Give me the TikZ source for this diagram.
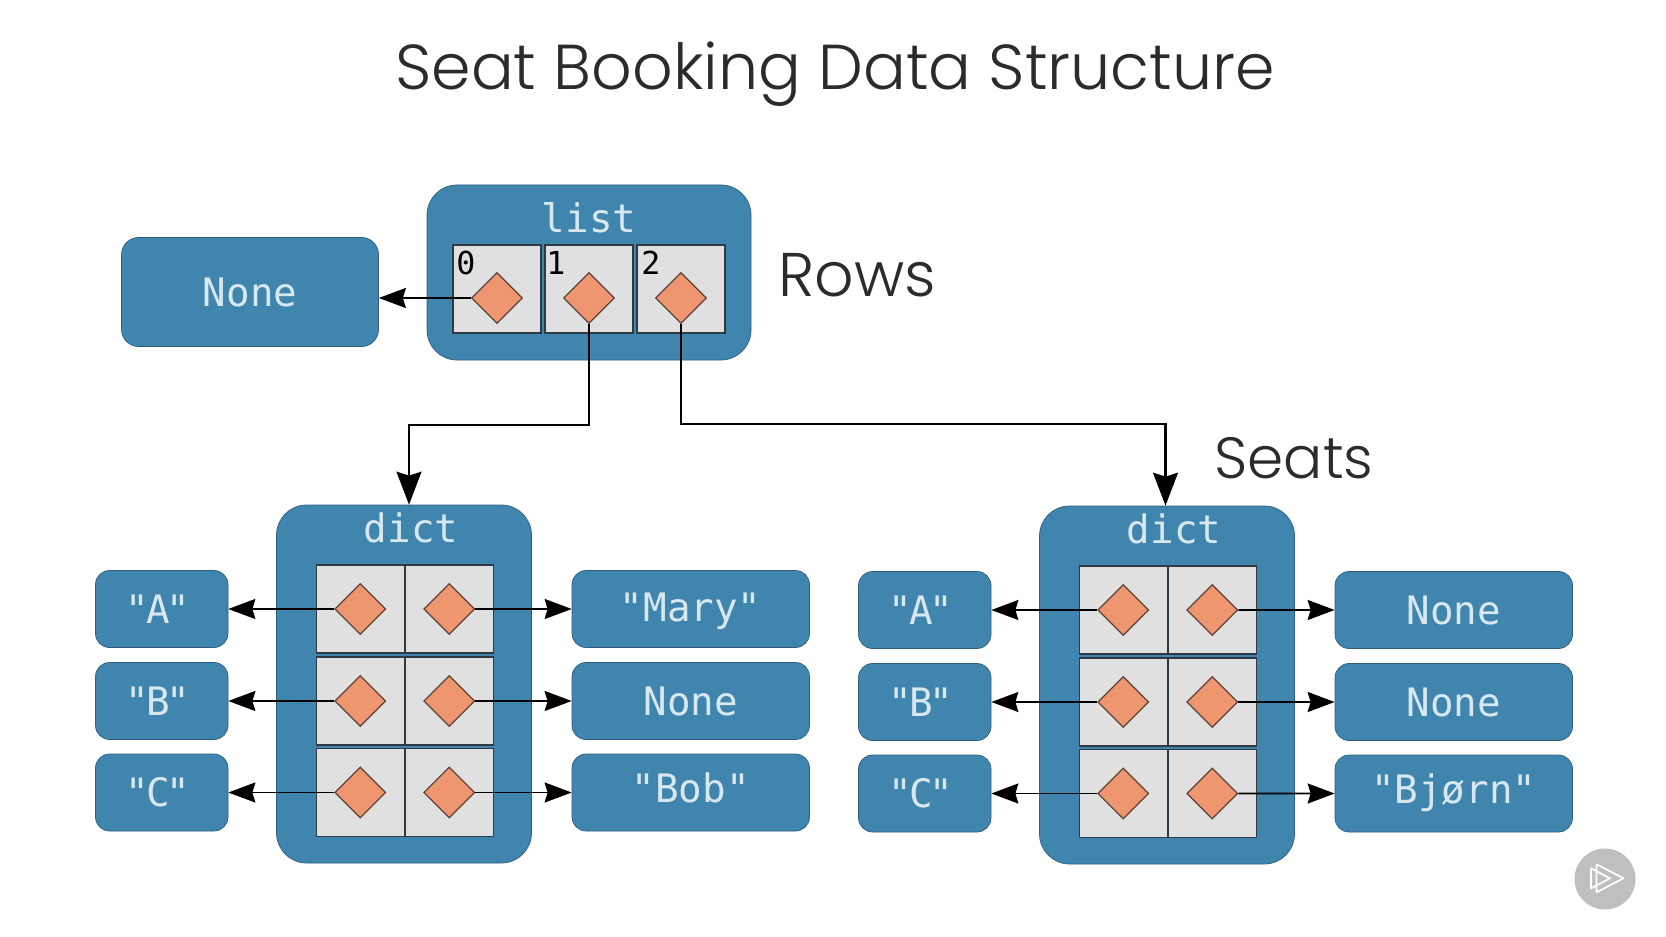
\documentclass[tikz,border=0pt]{standalone}
\usepackage{fontspec}
\usetikzlibrary{arrows.meta, shapes.geometric}

\setmainfont{Poppins}[UprightFont = * Light]
\newfontfamily\monofont{DejaVu Sans Mono}

\definecolor{boxblue}{HTML}{3F85AE}
\definecolor{boxedge}{HTML}{2F5F7E}
\definecolor{boxtext}{HTML}{D9E8EF}
\definecolor{cellgray}{HTML}{E0E0E0}
\definecolor{celledge}{HTML}{2E3A44}
\definecolor{itemfill}{HTML}{EE9670}
\definecolor{itemedge}{HTML}{5E4236}
\definecolor{titleink}{HTML}{2B2B2B}

\newcommand{\keytext}[1]{"\kern-1.8pt #1\kern-1.8pt "\kern 4.5pt}

\tikzset{
	datatext/.style = {text = boxtext, font = \monofont\fontsize{22.3}{25}\selectfont},
	bluebox/.style = {draw = boxedge, fill = boxblue, thin, rounded corners = 0.28cm, inner sep = 0, datatext, text height = 0.57cm, text depth = 0},
	keybox/.style = {bluebox, minimum width = 2.65cm, minimum height = 1.54cm},
	valuebox/.style = {bluebox, minimum width = 4.75cm, minimum height = 1.54cm},
	holder/.style = {draw = boxedge, fill = boxblue, thin, rounded corners = 0.6cm, inner sep = 0},
	cell/.style = {draw = celledge, fill = cellgray, line width = 0.7pt, minimum size = 1.76cm, inner sep = 0},
	item/.style = {diamond, draw = itemedge, fill = itemfill, line width = 0.7pt, minimum width = 1.02cm, minimum height = 1.02cm, inner sep = 0},
	index/.style = {text = black, font = \monofont\fontsize{18}{20}\selectfont, inner sep = 0},
	heading/.style = {text = titleink, inner sep = 0, anchor = base west},
	link/.style = {-{Stealth[length = 0.54cm, width = 0.4cm, inset = 0.06cm]}, line width = 1.1pt},
	bigLink/.style = {-{Stealth[length = 0.66cm, width = 0.5cm, inset = 0.08cm]}, line width = 1.2pt},
	badgeLine/.style = {white, line width = 1pt, line join = round}
}

\begin{document}
\begin{tikzpicture}

	\useasboundingbox (0, 0) rectangle (33.32, 18.72);

	% Headings

	\node [heading, font = \fontsize{36.1}{41}\selectfont] (title) at (7.9, 16.92) {Seat Booking Data Structure};
	\node [heading, font = \fontsize{35.1}{40}\selectfont] (rows) at (15.56, 12.8) {Rows};
	\node [heading, font = \fontsize{33.1}{38}\selectfont] (seats) at (24.28, 9.16) {Seats};

	% Rows

	\node [bluebox, minimum width = 5.14cm, minimum height = 2.18cm, rounded corners = 0.34cm] (none) at (5, 12.88) {None};
	\node [holder, minimum width = 6.48cm, minimum height = 3.5cm] (list) at (11.78, 13.27) {};
	\node [datatext] (listname) at (11.78, 14.36) {list};

	\foreach \i/\x/\xnum in {0/9.94/9.32, 1/11.78/11.12, 2/13.62/13.02} {
		\node [cell] (slot\i) at (\x, 12.94) {};
		\node [item] (slotitem\i) at (\x, 12.76) {};
		\node [index] (slotnum\i) at (\xnum, 13.46) {\i};
	}

	% Dicts

	\foreach \side/\dx/\dy in {left/0/0, right/15.26/-0.02} {
		\begin{scope}[shift = {(\dx, \dy)}]
			\node [holder, minimum width = 5.1cm, minimum height = 7.16cm] (\side dict) at (8.08, 5.04) {};
			\node [datatext] (\side name) at (8.22, 8.16) {dict};

			\foreach \r/\y/\k in {1/6.54/A, 2/4.7/B, 3/2.87/C} {
				\node [cell] (\side keycell\r) at (7.205, \y) {};
				\node [cell] (\side valcell\r) at (8.985, \y) {};
				\node [item] (\side keyitem\r) at (7.205, \y) {};
				\node [item] (\side valitem\r) at (8.985, \y) {};
				\node [keybox] (\side key\r) at (3.235, \y) {\keytext{\k}};
			}
		\end{scope}
	}

	% Values

	\foreach \r/\y/\v/\d in {1/6.54/"Mary"/0.08cm, 2/4.7/None/0cm, 3/2.87/"Bob"/0.16cm}
		\node [valuebox, text depth = \d] (leftval\r) at (13.815, \y) {\v};

	\foreach \r/\y/\v/\d in {1/6.52/None/0cm, 2/4.68/None/0cm, 3/2.85/"Bjørn"/0.16cm}
		\node [valuebox, text depth = \d] (rightval\r) at (29.075, \y) {\v};

	% Arrows

	\draw [link] (slotitem0.west) -- (slotitem0.west -| none.east);

	\foreach \side in {left, right}
		\foreach \r in {1, 2, 3} {
			\draw [link] (\side keyitem\r) -- (\side key\r);
			\draw [link] (\side valitem\r) -- (\side val\r);
		}

	\coordinate (leftbend) at (8.18, 10.22);
	\coordinate (rightbend) at (23.31, 10.24);

	\draw [bigLink] (slotitem1.south) |- (leftbend) -- (leftbend |- leftdict.north);
	\draw [bigLink] (slotitem2.south) |- (rightbend) -- (rightbend |- rightdict.north);

	% Play badge

	\node [circle, fill = black!25, minimum size = 1.22cm, inner sep = 0] (badge) at (32.1, 1.14) {};
	\draw [badgeLine] (31.93, 1.434) -- (32.47, 1.154) -- (31.93, 0.874) -- cycle;
	\draw [badgeLine] (31.82, 1.354) -- (32.2, 1.154) -- (31.82, 0.954) -- cycle;

\end{tikzpicture}
\end{document}
